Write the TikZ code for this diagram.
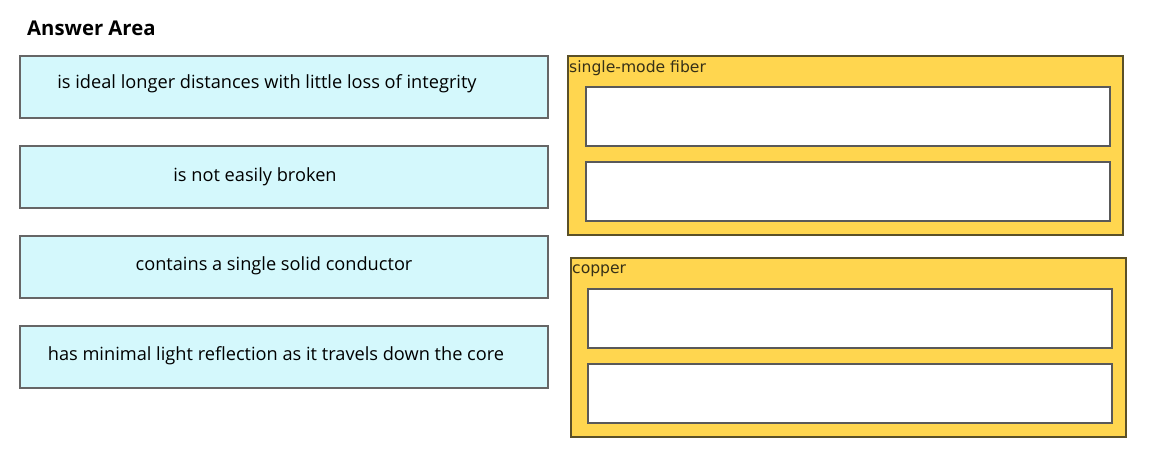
\documentclass[tikz,border=0pt]{standalone}
\usepackage{fontspec}
\setmainfont{Open Sans}
\newfontfamily\binfont{DejaVu Sans}
\usetikzlibrary{positioning}
\definecolor{cyanbox}{RGB}{212,248,252}
\definecolor{yellowbin}{RGB}{255,214,79}
\definecolor{binedge}{RGB}{90,80,40}
\tikzset{
  choice/.style={draw=gray!80!black, line width=2pt, fill=cyanbox, anchor=north west,
    minimum width=528, minimum height=62, inner sep=0pt},
  choicetext/.style={font=\fontsize{18.2}{20}\selectfont, inner sep=0pt},
  bin/.style={draw=binedge, line width=1.6pt, fill=yellowbin, anchor=north west,
    minimum width=555, minimum height=179, inner sep=0pt},
  slot/.style={draw=black!65, line width=1.8pt, fill=white, anchor=north west,
    minimum width=524, minimum height=59, inner sep=0pt},
  binlabel/.style={font=\binfont\fontsize{15.6}{17}\selectfont, color=binedge!60!black,
    anchor=west, inner sep=0pt}
}
\begin{document}
\begin{tikzpicture}[x=1pt,y=-1pt]
    \useasboundingbox (0,0) rectangle (1152,454);
    \node[anchor=west, inner sep=0pt, font=\bfseries\fontsize{20.3}{24}\selectfont] (title) at (27,28) {Answer Area};
    % answer choices
    \node[choice] (c1) at (19,55) {};
    \node[choice] (c2) at (19,145) {};
    \node[choice] (c3) at (19,235) {};
    \node[choice] (c4) at (19,325) {};
    \node[choicetext] (t1) at (267,84) {is ideal longer distances with little loss of integrity};
    \node[choicetext] (t2) at (255,177) {is not easily broken};
    \node[choicetext] (t3) at (274,266) {contains a single solid conductor};
    \node[choicetext] (t4) at (276,356) {has minimal light reflection as it travels down the core};
    % target bins
    \node[bin] (fiber) at (567,55) {};
    \node[binlabel] (fiberlbl) at (569,68) {single-mode fiber};
    \node[slot] (s1) at (585,86) {};
    \node[slot] (s2) at (585,161) {};
    \node[bin] (copper) at (570,257) {};
    \node[binlabel] (copperlbl) at (572,271) {copper};
    \node[slot] (s3) at (587,288) {};
    \node[slot] (s4) at (587,363) {};
\end{tikzpicture}
\end{document}
